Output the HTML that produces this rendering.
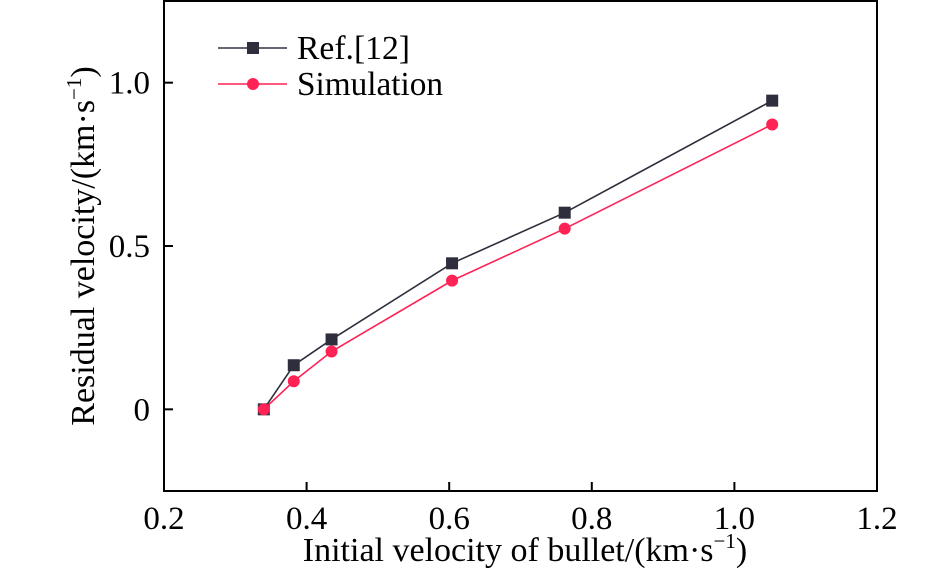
<!DOCTYPE html>
<html><head><meta charset="utf-8"><style>
body{margin:0;background:#fff}
svg{display:block;font-family:"Liberation Serif",serif}
</style></head><body>
<svg id="c" width="945" height="573" viewBox="0 0 945 573" xmlns="http://www.w3.org/2000/svg">
<g id="axes"></g>
<g id="series"></g>
<g>
<line x1="218" y1="48" x2="287" y2="48" stroke="#333344" stroke-width="1.5"/>
<rect x="247" y="42" width="12" height="12" fill="#2e2e3c"/>
<text x="297" y="59" font-size="34" textLength="113" lengthAdjust="spacingAndGlyphs">Ref.[12]</text>
<line x1="218" y1="84" x2="287" y2="84" stroke="#ff2255" stroke-width="1.5"/>
<circle cx="253" cy="84" r="6" fill="#ff2255"/>
<text x="297" y="95" font-size="34" textLength="146" lengthAdjust="spacingAndGlyphs">Simulation</text>
</g>
<text x="525" y="561" font-size="34" text-anchor="middle">Initial velocity of bullet/(km·s<tspan font-size="21" dy="-13">−1</tspan><tspan dy="13">)</tspan></text>
<text transform="translate(94,246) rotate(-90)" font-size="34" text-anchor="middle">Residual velocity/(km·s<tspan font-size="21" dy="-13">−1</tspan><tspan dy="13">)</tspan></text>
</svg>
<script>
const xData=[0.34,0.382,0.435,0.604,0.762,1.053];
const refValues=[0,0.135,0.214,0.447,0.602,0.945];
const simValues=[0,0.086,0.177,0.394,0.553,0.872];
const xTicks=[0.2,0.4,0.6,0.8,1.0,1.2];
const xTickLabels=["0.2","0.4","0.6","0.8","1.0","1.2"];
const yTicks=[0,0.5,1.0];
const yTickLabels=["0","0.5","1.0"];
const L=164,R=877,T=1,B=491;
const xs=v=>L+(v-0.2)/1.0*(R-L);
const ys=v=>B-(v+0.25)/1.5*(B-T);
const NS="http://www.w3.org/2000/svg";
function mk(p,tag,at){const e=document.createElementNS(NS,tag);for(const k in at)e.setAttribute(k,at[k]);p.appendChild(e);return e;}
const ax=document.getElementById('axes');
const fr=mk(ax,'rect',{x:L,y:T,width:R-L,height:B-T,fill:'none',stroke:'#000','stroke-width':2});


xTicks.forEach((v,i)=>{
 const t=mk(ax,'line',{x1:xs(v),x2:xs(v),y1:B,y2:B-9,stroke:'#000','stroke-width':2});
 
 
 const l=mk(ax,'text',{x:xs(v),y:B+38,'font-size':33,'text-anchor':'middle'});l.textContent=xTickLabels[i];
 
 
});
yTicks.forEach((v,i)=>{
 const t=mk(ax,'line',{x1:L,x2:L+9,y1:ys(v),y2:ys(v),stroke:'#000','stroke-width':2});
 
 
 const l=mk(ax,'text',{x:L-14,y:ys(v)+11,'font-size':33,'text-anchor':'end'});l.textContent=yTickLabels[i];
 
 
});
const sg=document.getElementById('series');
function series(vals,color,name,sq){
 const pts=xData.map((x,i)=>xs(x)+','+ys(vals[i])).join(' ');
 const pl=mk(sg,'polyline',{points:pts,fill:'none',stroke:color,'stroke-width':1.6});
 
 
 xData.forEach((x,i)=>{
  let m;
  if(sq) m=mk(sg,'rect',{x:xs(x)-6,y:ys(vals[i])-6,width:12,height:12,fill:color});
  else m=mk(sg,'circle',{cx:xs(x),cy:ys(vals[i]),r:6,fill:color});
  
  
 });
}
series(refValues,'#2e2e3c','ref',true);
series(simValues,'#ff2255','sim',false);
</script>
</body></html>
